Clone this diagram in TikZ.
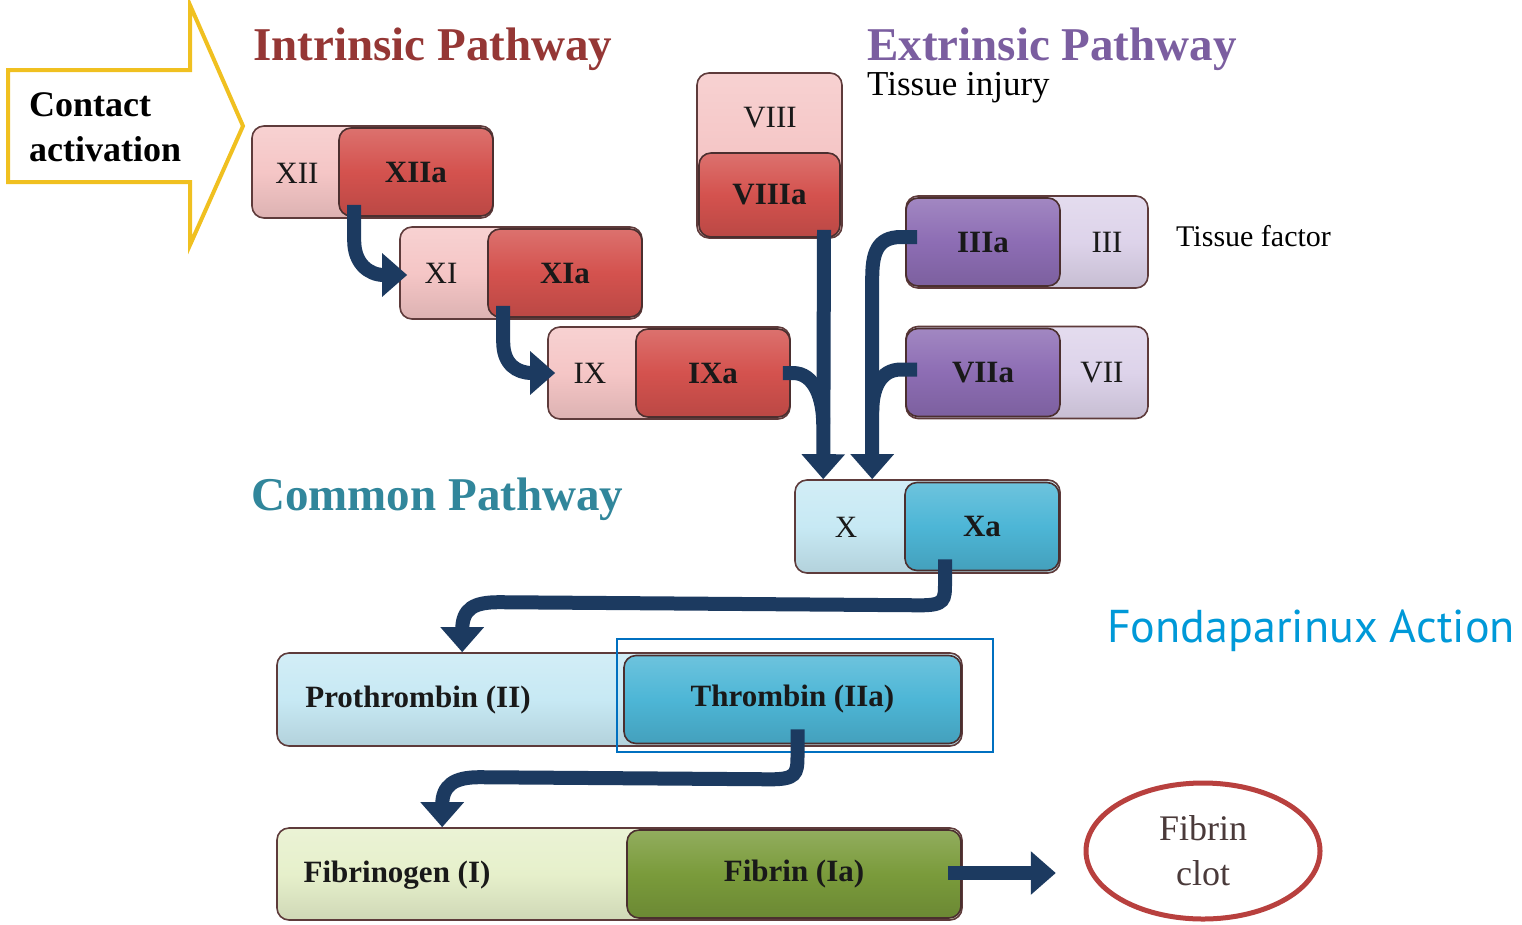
\documentclass[tikz,border=0pt]{standalone}
\usepackage{fontspec}
\setmainfont{Liberation Serif}
\newfontfamily\fondafont{PT Sans}
\usetikzlibrary{arrows.meta,shapes.geometric,calc}
\definecolor{lpink}{HTML}{F5C6C6}
\definecolor{dred}{HTML}{D4524E}
\definecolor{lpurp}{HTML}{DDD3EA}
\definecolor{dpurp}{HTML}{8D6DB4}
\definecolor{lcyan}{HTML}{C7E9F4}
\definecolor{dcyan}{HTML}{4DB6D6}
\definecolor{lgreen}{HTML}{E6F0CB}
\definecolor{dgreen}{HTML}{7A9B3B}
\definecolor{boxedge}{HTML}{5E3B3B}
\definecolor{navy}{HTML}{1C3A60}
\definecolor{intrcol}{HTML}{953735}
\definecolor{extrcol}{HTML}{7B5EA0}
\definecolor{commcol}{HTML}{31869B}
\definecolor{fondacol}{HTML}{0099D8}
\definecolor{fboxcol}{HTML}{0070C0}
\definecolor{yellowcol}{HTML}{F0C020}
\definecolor{clotcol}{HTML}{B8403E}
\definecolor{clottext}{HTML}{4A3A3A}
\begin{document}
\begin{tikzpicture}[x=1pt,y=-1pt,
  every node/.style={inner sep=0pt},
  lbox/.style={rectangle, rounded corners=12pt, draw=boxedge, line width=1.6pt,
    top color=#1!80!white, bottom color=#1!90!black, middle color=#1},
  dbox/.style={rectangle, rounded corners=12pt, draw=boxedge!80!black, line width=1.6pt,
    top color=#1!82!white, bottom color=#1!88!black, middle color=#1,
    font=\fontsize{31}{34}\selectfont\bfseries, text=black!90},
  lbl/.style={font=\fontsize{31}{34}\selectfont, text=black!90},
  blbl/.style={font=\fontsize{31}{34}\selectfont\bfseries, text=black!90},
  titletext/.style={font=\fontsize{47}{50}\selectfont\bfseries, anchor=base west},
  flow/.style={draw=navy, line width=14pt, -{Triangle[width=42pt,length=25pt]}},
  mergeflow/.style={draw=navy, line width=14pt},
]
\useasboundingbox (0,0) rectangle (1522,924);
\fill[white] (0,0) rectangle (1522,924);

% contact activation arrow
\draw[yellowcol, line width=4pt, fill=white, line join=miter]
  (8,70) -- (190,70) -- (190,5) -- (243,126) -- (190,245) -- (190,182) -- (8,182) -- cycle;
\node[font=\fontsize{36}{45}\selectfont\bfseries, align=left, anchor=west] (contact) at (29,127)
  {Contact\\activation};

% titles
\node[titletext, text=intrcol] (intr) at (253,60) {Intrinsic Pathway};
\node[titletext, text=extrcol] (extr) at (867,60) {Extrinsic Pathway};
\node[titletext, text=commcol] (comm) at (251,510) {Common Pathway};
\node[font=\fontsize{35}{38}\selectfont, anchor=base west] (injury) at (867,95) {Tissue injury};
\node[font=\fontsize{30}{34}\selectfont, anchor=base west] (tfactor) at (1176,246) {Tissue factor};
\node[font=\fontsize{46}{50}\fondafont, text=fondacol, anchor=base west] (fonda) at (1107,642) {Fondaparinux Action};

% XII
\node[lbox=lpink, minimum width=241pt, minimum height=92pt] (xii) at (372.5,172) {};
\node[lbl] (xiit) at (297,173) {XII};
\node[dbox=dred, minimum width=154pt, minimum height=88pt] (xiia) at (416,172) {XIIa};
% XI
\node[lbox=lpink, minimum width=242pt, minimum height=92pt] (xi) at (521,273) {};
\node[lbl] (xit) at (441,273) {XI};
\node[dbox=dred, minimum width=154pt, minimum height=88pt] (xia) at (565,273) {XIa};
% IX
\node[lbox=lpink, minimum width=242pt, minimum height=92pt] (ix) at (669,373) {};
\node[lbl] (ixt) at (590,373) {IX};
\node[dbox=dred, minimum width=154pt, minimum height=88pt] (ixa) at (713,373) {IXa};
% VIII
\node[lbox=lpink, minimum width=145pt, minimum height=165pt] (viii) at (769.5,155.5) {};
\node[lbl] (viiit) at (770,118) {VIII};
\node[dbox=dred, minimum width=141pt, minimum height=84pt] (viiia) at (769.5,195) {VIIIa};
% III
\node[lbox=lpurp, minimum width=242pt, minimum height=92pt] (iii) at (1027,242) {};
\node[lbl] (iiit) at (1107,242) {III};
\node[dbox=dpurp, minimum width=154pt, minimum height=88pt] (iiia) at (983,242) {IIIa};
% VII
\node[lbox=lpurp, minimum width=242pt, minimum height=92pt] (vii) at (1027,372.5) {};
\node[lbl] (viit) at (1102,373) {VII};
\node[dbox=dpurp, minimum width=154pt, minimum height=88pt] (viia) at (983,372.5) {VIIa};
% X
\node[lbox=lcyan, minimum width=265pt, minimum height=93pt] (x) at (927.5,526.5) {};
\node[lbl] (xt) at (846,527) {X};
\node[dbox=dcyan, minimum width=154pt, minimum height=88pt] (xa) at (982,526.5) {Xa};
% Prothrombin
\node[lbox=lcyan, minimum width=685pt, minimum height=93pt] (pro) at (619.5,699.5) {};
\node[blbl] (prot) at (418,700) {Prothrombin (II)};
\node[dbox=dcyan, minimum width=337pt, minimum height=88pt] (thr) at (792.5,699.5) {Thrombin (IIa)};
% Fibrinogen
\node[lbox=lgreen, minimum width=685pt, minimum height=92pt] (fbg) at (619.5,874) {};
\node[blbl] (fbgt) at (397,875) {Fibrinogen (I)};
\node[dbox=dgreen, minimum width=334pt, minimum height=88pt] (fib) at (794,874) {Fibrin (Ia)};
% Fibrin clot
\node[ellipse, draw=clotcol, line width=5pt, minimum width=234pt, minimum height=136pt,
  font=\fontsize{36}{45}\selectfont, text=clottext, align=center] (clot) at (1203,851) {Fibrin\\clot};

% Fondaparinux action box
\node[draw=fboxcol, line width=2.5pt, minimum width=376pt, minimum height=113pt] (fbox) at (805,695.5) {};

% connectors
\draw[flow] ($(xiia.south west)+(16,-12)$) -- ++(0,36)
  .. controls +(0,22) and +(-16,0) .. ($(xi.west)+(-15,2)$) -- ($(xi.west)+(8,2)$);
\draw[flow] ($(xia.south west)+(16,-12)$) -- ++(0,36)
  .. controls +(0,22) and +(-16,0) .. ($(ix.west)+(-15,0)$) -- ($(ix.west)+(8,0)$);
\draw[mergeflow] ($(ixa.east)+(-8,0)$) -- ++(10,0)
  .. controls +(22,0) and +(0,-25) .. ($(x.north west)+(29,-55)$);
\draw[mergeflow] ($(viia.west)+(12,-3)$) -- ++(-16,0)
  .. controls +(-22,0) and +(0,-22) .. ($(x.north west)+(78,-67)$);
\draw[flow] ($(viiia.south)+(54.5,-8)$) -- ($(x.north west)+(29,0)$);
\draw[flow] ($(iiia.west)+(12,-5)$) -- ++(-16,0)
  .. controls +(-25,0) and +(0,-25) .. ($(x.north west)+(78,-200)$)
  -- ($(x.north west)+(78,0)$);
\draw[flow] ($(xa.south)+(-37,-12)$) -- ++(0,23)
  .. controls +(0,18) and +(25,0) .. ++(-25,23)
  -- ($(pro.north west)+(223,-50)$)
  .. controls +(-25,0) and +(0,-22) .. ($(pro.north west)+(186,-22)$)
  -- ($(pro.north west)+(186,0)$);
\draw[flow] ($(thr.south)+(5,-15)$) -- ++(0,27)
  .. controls +(0,18) and +(25,0) .. ++(-27,23)
  -- ($(fbg.north west)+(203,-50)$)
  .. controls +(-25,0) and +(0,-20) .. ($(fbg.north west)+(166,-22)$)
  -- ($(fbg.north west)+(166,0)$);
\draw[flow] ($(fib.east)+(-14,-1)$) -- ($(fib.east)+(94,-1)$);
\end{tikzpicture}
\end{document}
